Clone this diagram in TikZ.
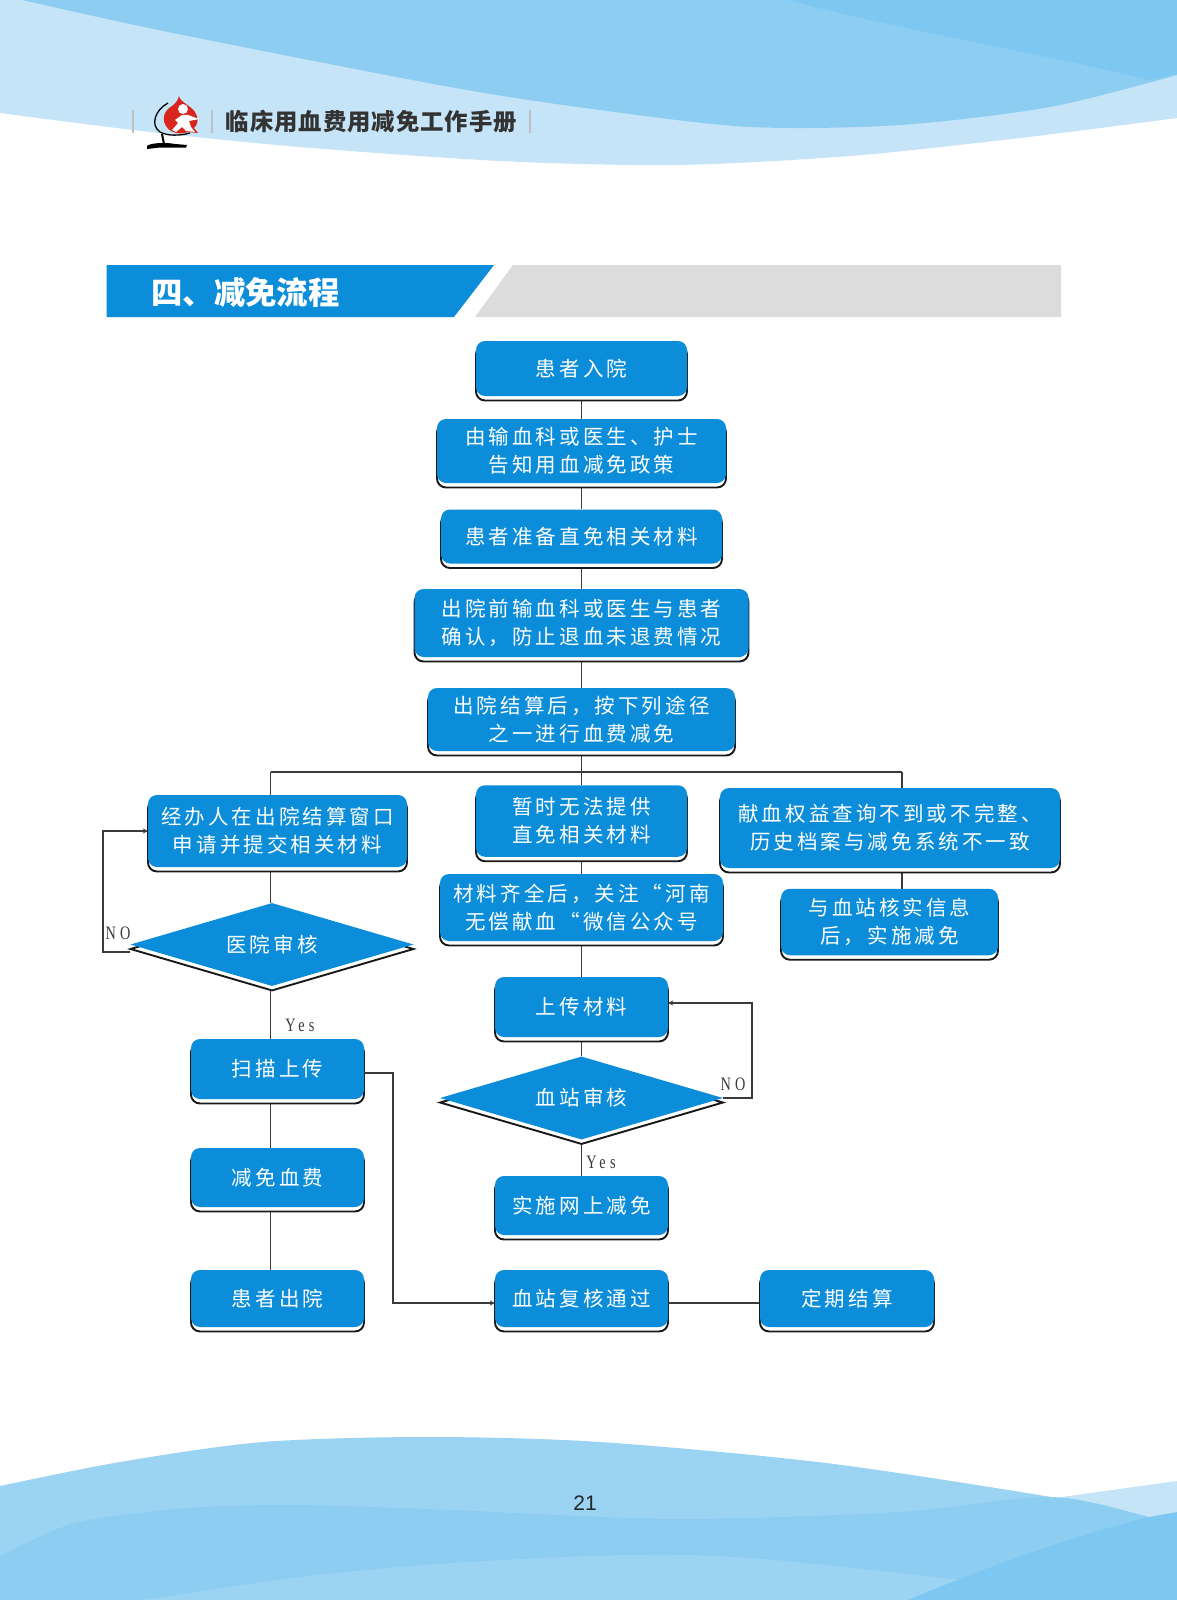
\documentclass[tikz,border=0pt]{standalone}
\usepackage{fontspec}
\usetikzlibrary{shapes.geometric,shadows,backgrounds,arrows.meta,calc}
\setmainfont{Liberation Sans}
\newfontfamily\cjk[LetterSpace=15]{Noto Sans CJK SC}
\newfontfamily\cjkhead{Noto Sans CJK SC}
\newfontfamily\runfont[LetterSpace=4]{Noto Sans CJK SC}
\newfontfamily\labelfont[LetterSpace=22,FakeStretch=0.75]{Liberation Serif}
\definecolor{flowblue}{HTML}{0C8DDA}
\definecolor{palewave}{HTML}{C6E4F7}
\definecolor{midwave}{HTML}{8CCDF1}
\definecolor{deepwave}{HTML}{7CC8F2}
\definecolor{lightwave}{HTML}{9BD3F3}
\definecolor{linegray}{HTML}{3A3A3A}
\definecolor{bandgray}{HTML}{DCDCDC}
\definecolor{logored}{HTML}{D8261C}
\tikzset{
  edgeshadow/.style={copy shadow={shadow xshift=0pt,shadow yshift=-4.5pt,draw=black!90,fill=white,line width=1.9pt}},
  flowbox/.style={rectangle,rounded corners=9pt,fill=flowblue,text=white,align=center,inner sep=0pt,edgeshadow,
    font=\cjk\fontsize{20.5}{28}\selectfont},
  flowdiamond/.style={diamond,aspect=3.4,fill=flowblue,text=white,inner sep=0pt,edgeshadow,
    font=\cjk\fontsize{20.5}{28}\selectfont},
  link/.style={draw=linegray,line width=1.25pt},
  arrowlink/.style={link,-{Stealth[length=5pt,width=5pt]}},
  branchlabel/.style={text=linegray,inner sep=0pt,font=\labelfont\fontsize{19}{20}\selectfont},
  divider/.style={draw=black!25,line width=1.1pt}
}
\begin{document}
\begin{tikzpicture}[x=1pt,y=-1pt]
\useasboundingbox (0,0) rectangle (1177,1600);
\begin{pgfonlayer}{background}
\fill[white] (0,0) rectangle (1177,1600);
% top waves
\fill[palewave] (0,0) -- plot[smooth] coordinates {(0,113) (150,132) (300,147) (500,161) (676,165) (850,156) (1020,138) (1177,118)} -- (1177,0) -- cycle;
\fill[midwave] plot[smooth] coordinates {(22,0) (173,33) (450,87) (600,110) (750,127) (900,125) (1050,107) (1177,75)} -- (1177,0) -- cycle;
\fill[deepwave] (788,0) .. controls (900,30) and (1050,55) .. (1149,80) -- (1177,74) -- (1177,0) -- cycle;
% bottom waves
\fill[palewave] (1040,1500) -- (1177,1481) -- (1177,1600) -- (1040,1600) -- cycle;
\fill[lightwave] plot[smooth] coordinates {(0,1486) (120,1462) (263,1442) (428,1437) (600,1442) (826,1463) (1051,1497) (1149,1517) (1177,1525)} -- (1177,1600) -- (0,1600) -- cycle;
\fill[midwave] plot[smooth] coordinates {(0,1557) (75,1523) (188,1508) (300,1505) (450,1510) (676,1519) (900,1512) (1051,1497) (1149,1517) (1177,1525)} -- (1177,1600) -- (0,1600) -- cycle;
\fill[lightwave] plot[smooth] coordinates {(143,1600) (300,1577) (450,1563) (623,1555) (751,1558) (961,1580) (1100,1600)} -- cycle;
\fill[deepwave] (908,1600) .. controls (980,1570) and (1060,1540) .. (1149,1517) -- (1177,1512) -- (1177,1600) -- cycle;
\end{pgfonlayer}
% header band
\fill[flowblue] (106.5,265) -- (494,265) -- (454,317) -- (106.5,317) -- cycle;
\fill[bandgray] (513,265) -- (1061,265) -- (1061,317) -- (475,317) -- cycle;
\node[text=white,inner sep=0pt,anchor=center,font=\cjkhead\bfseries\fontsize{31.4}{34}\selectfont] (title) at (245.5,292) {四、减免流程};
% running head
\draw[divider] (133,110) -- (133,133);
\draw[divider] (212,110) -- (212,133);
\draw[divider] (530,110) -- (530,133);
\node[text=black!80,inner sep=0pt,font=\runfont\bfseries\fontsize{23.4}{26}\selectfont] (runhead) at (371.5,122) {临床用血费用减免工作手册};
% logo
\fill[logored] (179,96) .. controls (180,102) and (190,105) .. (195,112) .. controls (199,118) and (198,125) .. (194,128) -- (198,133) -- (188,132) .. controls (180,135) and (170,133) .. (166,126) .. controls (161,118) and (165,110) .. (172,106) .. controls (176,103) and (178,100) .. (179,96) -- cycle;
\fill[white] (183,109) circle (5);
\fill[white] (175,120) -- (182,115) -- (188,115) -- (199,119) -- (189,121) -- (191,127) -- (195,132) -- (186,131) -- (182,127) -- (176,132) -- (172,130) -- (178,123) -- cycle;
\draw[black,line width=1.3pt] (168,103) .. controls (155,110) and (150,125) .. (160,132) .. controls (167,136) and (180,136) .. (190,133);
\draw[black,line width=2pt] (162,134) -- (164,144);
\fill[black] (147,146) .. controls (150,143) and (165,142) .. (175,144) -- (187,145) -- (186,147.5) -- (160,147.5) -- (147,149) -- cycle;
% page number
\node[text=black!85,inner sep=0pt,font=\fontsize{21}{24}\selectfont] (pageno) at (585,1503) {21};
% flow nodes
\node[flowbox,minimum width=211pt,minimum height=55pt] (n1) at (581.5,368.5) {患者入院};
\node[flowbox,minimum width=289pt,minimum height=64pt] (n2) at (581.5,451) {由输血科或医生、护士\\告知用血减免政策};
\node[flowbox,minimum width=281pt,minimum height=54pt] (n3) at (581.5,536.5) {患者准备直免相关材料};
\node[flowbox,minimum width=334pt,minimum height=68pt] (n4) at (581.5,623) {出院前输血科或医生与患者\\确认，防止退血未退费情况};
\node[flowbox,minimum width=307pt,minimum height=63pt] (n5) at (581.5,719.5) {出院结算后，按下列途径\\之一进行血费减免};
\node[flowbox,minimum width=259pt,minimum height=72pt] (a1) at (277.5,831) {经办人在出院结算窗口\\申请并提交相关材料};
\node[flowdiamond,minimum width=283pt,minimum height=83pt] (d1) at (272,944.5) {医院审核};
\node[flowbox,minimum width=173pt,minimum height=60pt] (a2) at (277.5,1069) {扫描上传};
\node[flowbox,minimum width=173pt,minimum height=59pt] (a3) at (277.5,1177.5) {减免血费};
\node[flowbox,minimum width=173pt,minimum height=57pt] (a4) at (277.5,1298.5) {患者出院};
\node[flowbox,minimum width=211pt,minimum height=71.5pt] (b1) at (581.5,821) {暂时无法提供\\直免相关材料};
\node[flowbox,minimum width=283pt,minimum height=67pt] (b2) at (581.5,907.5) {材料齐全后，关注“河南\\无偿献血“微信公众号};
\node[flowbox,minimum width=173pt,minimum height=60pt] (e1) at (581.5,1007) {上传材料};
\node[flowdiamond,minimum width=283pt,minimum height=83pt] (d2) at (581.5,1098) {血站审核};
\node[flowbox,minimum width=173pt,minimum height=59pt] (e2) at (581.5,1205.5) {实施网上减免};
\node[flowbox,minimum width=173pt,minimum height=57pt] (f1) at (581.5,1298.5) {血站复核通过};
\node[flowbox,minimum width=174pt,minimum height=57pt] (f2) at (847,1298.5) {定期结算};
\node[flowbox,minimum width=340pt,minimum height=80pt] (c1) at (890,828) {献血权益查询不到或不完整、\\历史档案与减免系统不一致};
\node[flowbox,minimum width=217pt,minimum height=66.5pt] (c2) at (889.5,922) {与血站核实信息\\后，实施减免};
% branch labels
\node[branchlabel] (no1) at (118,933) {NO};
\node[branchlabel] (yes1) at (300,1025) {Yes};
\node[branchlabel] (no2) at (733,1084) {NO};
\node[branchlabel] (yes2) at (601,1162) {Yes};
% connectors
\coordinate (busL) at (270.5,772);
\coordinate (busM) at (581.5,772);
\coordinate (busR) at (902,772);
\coordinate (loopL) at (103,952);
\coordinate (loopR) at (752,1098);
\coordinate (crossA) at (393,1073);
\coordinate (lowrow) at (0,1303);
\coordinate (uprow) at (0,1003);
\begin{pgfonlayer}{background}
\draw[link] (n1) -- (n2);
\draw[link] (n2) -- (n3);
\draw[link] (n3) -- (n4);
\draw[link] (n4) -- (n5);
\draw[link] (n5) -- (busM);
\draw[link] (busL) -- (busR);
\draw[link] (busL) -- (busL |- a1.north);
\draw[link] (busM) -- (b1);
\draw[link] (busR) -- (busR |- c1.north);
\draw[link] (busL |- a1.south) -- (busL |- d1.north);
\draw[link] (busL |- d1.south) -- (busL |- a2.north);
\draw[link] (busL |- a2.south) -- (busL |- a3.north);
\draw[link] (busL |- a3.south) -- (busL |- a4.north);
\draw[link] (b1) -- (b2);
\draw[link] (b2) -- (e1);
\draw[link] (e1) -- (d2);
\draw[link] (d2) -- (e2);
\draw[link] (busR |- c1.south) -- (busR |- c2.north);
\draw[link] (f1.east |- lowrow) -- (f2.west |- lowrow);
\end{pgfonlayer}
\draw[arrowlink] (d1.west |- loopL) -- (loopL) -- (loopL |- a1.west) -- (a1.west);
\draw[arrowlink] (d2.east) -- (loopR) -- (loopR |- uprow) -- (e1.east |- uprow);
\draw[arrowlink] (a2.east |- crossA) -- (crossA) -- (crossA |- lowrow) -- (f1.west |- lowrow);
\end{tikzpicture}
\end{document}
